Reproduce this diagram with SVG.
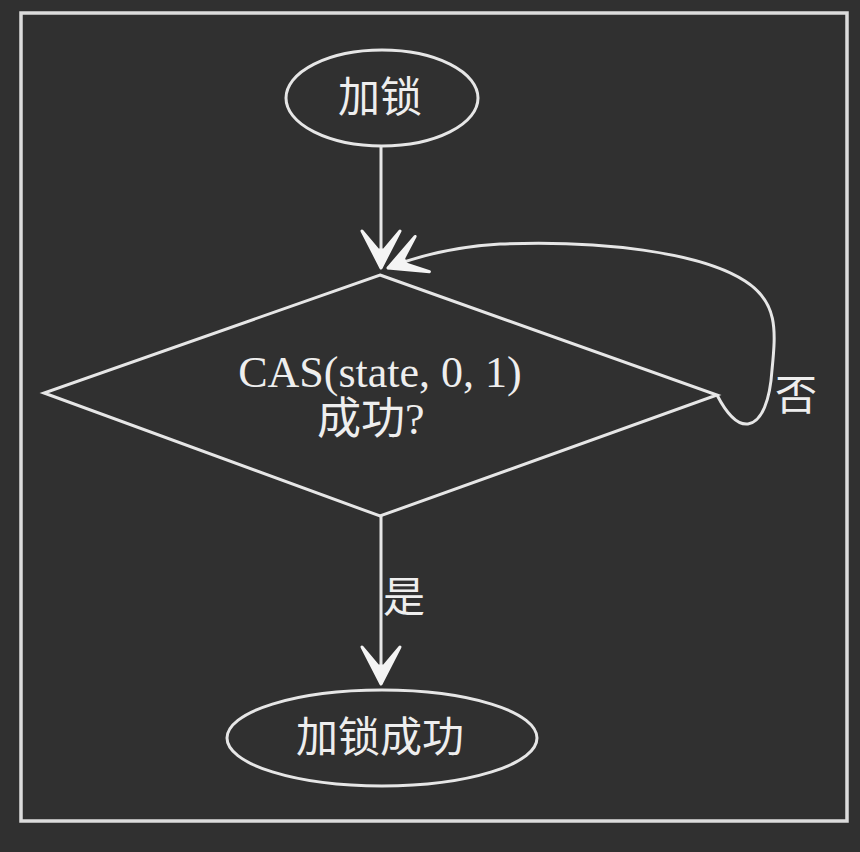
<svg xmlns="http://www.w3.org/2000/svg" width="860" height="852" viewBox="0 0 860 852">
  <style>
    .shape { fill: none; stroke: #e6e6e6; stroke-width: 3; }
    .edge { fill: none; stroke: #e6e6e6; stroke-width: 3; }
    .cjk { font-family: "Noto Sans CJK SC", "Liberation Serif", sans-serif; font-size: 42px; fill: #eeeeee; }
    .lat { font-family: "Liberation Serif", "Noto Sans CJK SC", serif; font-size: 44px; fill: #eeeeee; }
  </style>
  <defs>
    <marker id="arrow" markerUnits="userSpaceOnUse" viewBox="-42 -22 46 44" refX="0" refY="0" markerWidth="46" markerHeight="44" orient="auto">
      <path d="M0,0 L-37,-19 L-18,-3 L-18,3 L-37,19 Z" fill="#f4f4f4" stroke="#f4f4f4" stroke-width="3" stroke-linejoin="round"/>
    </marker>
  </defs>
  <rect x="0" y="0" width="860" height="852" fill="#303030"/>
  <rect x="21" y="13" width="826" height="808" fill="none" stroke="#dcdcdc" stroke-width="3.5"/>

  <g id="connectors">
    <path class="edge" d="M381,146 L381,268" marker-end="url(#arrow)"/>
    <path class="edge" d="M717,395 C730,420 740,425 748,424 C762,422 770,400 772,370 C776,330 778,302 745,281 C700,252 600,240 500,244 C450,247 415,257 388,268" marker-end="url(#arrow)"/>
    <path class="edge" d="M381,516 L381,684" marker-end="url(#arrow)"/>
  </g>

  <g id="start">
    <ellipse class="shape" cx="382" cy="98" rx="96" ry="48"/>
    <text class="cjk" x="380" y="112" text-anchor="middle">加锁</text>
  </g>

  <g id="decision">
    <polygon class="shape" points="380,275 717,395 380,516 44,393"/>
    <text class="lat" x="380" y="387" text-anchor="middle">CAS(state, 0, 1)</text>
    <text class="lat" x="317" y="434">成功?</text>
  </g>

  <g id="success">
    <ellipse class="shape" cx="382" cy="738" rx="155" ry="48"/>
    <text class="cjk" x="380" y="752" text-anchor="middle">加锁成功</text>
  </g>

  <g id="labels">
    <text class="cjk" x="775" y="410">否</text>
    <text class="cjk" x="383" y="612">是</text>
  </g>
</svg>
